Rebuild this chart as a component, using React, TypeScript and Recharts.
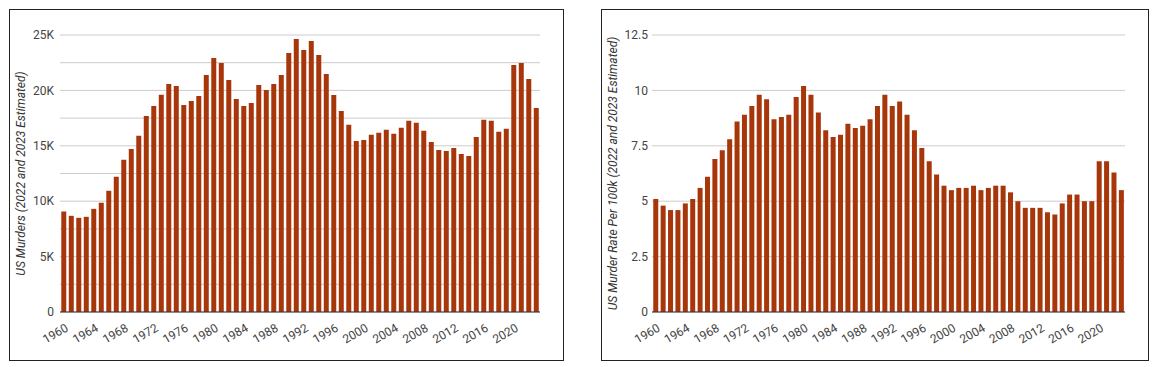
import { BarChart, Bar, XAxis, YAxis, CartesianGrid } from "recharts";

// years shown on both charts
const years = [
  1960, 1961, 1962, 1963, 1964, 1965, 1966, 1967, 1968, 1969,
  1970, 1971, 1972, 1973, 1974, 1975, 1976, 1977, 1978, 1979,
  1980, 1981, 1982, 1983, 1984, 1985, 1986, 1987, 1988, 1989,
  1990, 1991, 1992, 1993, 1994, 1995, 1996, 1997, 1998, 1999,
  2000, 2001, 2002, 2003, 2004, 2005, 2006, 2007, 2008, 2009,
  2010, 2011, 2012, 2013, 2014, 2015, 2016, 2017, 2018, 2019,
  2020, 2021, 2022, 2023,
];

// total murders per year
const murders = [
  9070, 8680, 8500, 8590, 9310, 9860, 10940, 12200, 13730, 14720,
  15900, 17700, 18600, 19600, 20580, 20400, 18690, 19050, 19500, 21390,
  22930, 22480, 20940, 19230, 18600, 18870, 20490, 20040, 20580, 21390,
  23380, 24640, 23650, 24460, 23200, 21480, 19590, 18150, 16890, 15440,
  15530, 15990, 16170, 16440, 16080, 16620, 17250, 17070, 16350, 15350,
  14630, 14540, 14810, 14270, 14090, 15800, 17340, 17250, 16260, 16530,
  22300, 22480, 21030, 18420,
];

// murder rate per 100k
const rates = [
  5.1, 4.8, 4.6, 4.6, 4.9, 5.1, 5.6, 6.1, 6.9, 7.3,
  7.8, 8.6, 8.9, 9.3, 9.8, 9.6, 8.7, 8.8, 8.9, 9.7,
  10.2, 9.8, 9.0, 8.2, 7.9, 8.0, 8.5, 8.3, 8.4, 8.7,
  9.3, 9.8, 9.3, 9.5, 8.9, 8.2, 7.4, 6.8, 6.2, 5.7,
  5.5, 5.6, 5.6, 5.7, 5.5, 5.6, 5.7, 5.7, 5.4, 5.0,
  4.7, 4.7, 4.7, 4.5, 4.4, 4.9, 5.3, 5.3, 5.0, 5.0,
  6.8, 6.8, 6.3, 5.5,
];

const murderTicks = [0, 2500, 5000, 7500, 10000, 12500, 15000, 17500, 20000, 22500, 25000];
const rateTicks = [0, 2.5, 5, 7.5, 10, 12.5];

const murderData = years.map((y, i) => ({ year: String(y), value: murders[i] }));
const rateData = years.map((y, i) => ({ year: String(y), value: rates[i] }));

const barColor = "#a8360b";
const font = "Roboto, Arial, sans-serif";
const tickStyle = { fill: "#444", fontSize: 12, fontFamily: font };

const boxStyle = (left: number, width: number): React.CSSProperties => ({
  position: "absolute",
  left,
  top: 9,
  width,
  height: 352,
  border: "1px solid #222",
  boxSizing: "border-box",
  background: "#fff",
});

// rotated axis title, centred on the plot height
const axisTitle = (text: string) => (props: any) => {
  const vb = props.viewBox || {};
  const cy = vb.y + vb.height / 2;
  return (
    <text
      x={11}
      y={cy}
      transform={`rotate(-90, 11, ${cy})`}
      textAnchor="middle"
      dominantBaseline="central"
      fill="#333"
      fontSize={12}
      fontStyle="italic"
      fontFamily={font}
    >
      {text}
    </text>
  );
};

const formatK = (v: number) => (v === 0 ? "0" : v % 5000 === 0 ? `${v / 1000}K` : "");

const App = () => {
  return (
    <div>
      <div style={boxStyle(9, 555)}>
        <BarChart
          width={553}
          height={350}
          data={murderData}
          margin={{ top: 25, right: 23, left: 0, bottom: 0 }}
          barCategoryGap="17%"
        >
          <CartesianGrid vertical={false} stroke="#ccc" />
          <XAxis
            dataKey="year"
            interval={3}
            height={48}
            tickLine={false}
            tickSize={0}
            tickMargin={11}
            angle={-30}
            textAnchor="end"
            dx={1}
            tick={tickStyle}
            axisLine={{ stroke: "#333" }}
          />
          <YAxis
            width={50}
            domain={[0, 25000]}
            ticks={murderTicks}
            tickFormatter={formatK}
            axisLine={false}
            tickLine={false}
            tickSize={6}
            tickMargin={0}
            tick={tickStyle}
            label={{ content: axisTitle("US Murders (2022 and 2023 Estimated)") }}
          />
          <Bar dataKey="value" fill={barColor} isAnimationActive={false} />
        </BarChart>
      </div>
      <div style={boxStyle(601, 548)}>
        <BarChart
          width={546}
          height={350}
          data={rateData}
          margin={{ top: 25, right: 23, left: 0, bottom: 0 }}
          barCategoryGap="17%"
        >
          <CartesianGrid vertical={false} stroke="#ccc" />
          <XAxis
            dataKey="year"
            interval={3}
            height={48}
            tickLine={false}
            tickSize={0}
            tickMargin={11}
            angle={-30}
            textAnchor="end"
            dx={1}
            tick={tickStyle}
            axisLine={{ stroke: "#333" }}
          />
          <YAxis
            width={50}
            domain={[0, 12.5]}
            ticks={rateTicks}
            axisLine={false}
            tickLine={false}
            tickSize={4}
            tickMargin={0}
            tick={tickStyle}
            label={{ content: axisTitle("US Murder Rate Per 100k (2022 and 2023 Estimated)") }}
          />
          <Bar dataKey="value" fill={barColor} isAnimationActive={false} />
        </BarChart>
      </div>
    </div>
  );
};

export default App;
